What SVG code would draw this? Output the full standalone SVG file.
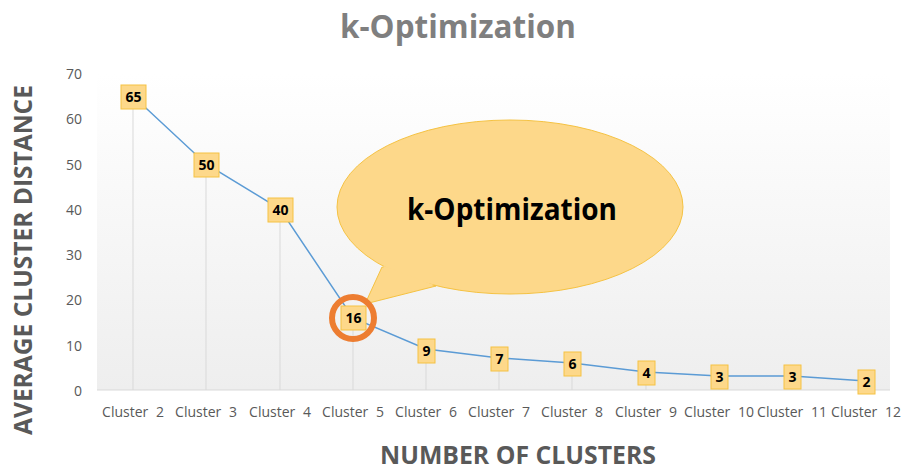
<svg xmlns="http://www.w3.org/2000/svg" width="901" height="470" viewBox="0 0 901 470">
<defs>
<linearGradient id="bg" x1="0" y1="0" x2="0" y2="1">
<stop offset="0" stop-color="#ffffff"/>
<stop offset="1" stop-color="#eeeeee"/>
</linearGradient>
<style>
.tick{font-family:"Open Sans","Liberation Sans",sans-serif;font-size:14px;fill:#595959}
.ytick{text-anchor:end}
.xtick{text-anchor:middle}
.axt{font-family:"Open Sans","Liberation Sans",sans-serif;font-weight:bold;fill:#595959;text-anchor:middle}
.drop{stroke:#d9d9d9;stroke-width:1}
.lbl rect{fill:#fdd88a;stroke:#f5c242;stroke-width:1}
.lbl text{font-family:"Open Sans","Liberation Sans",sans-serif;font-weight:bold;font-size:14px;fill:#000;text-anchor:middle}
</style>
</defs>
<rect width="901" height="470" fill="#ffffff"/>
<text x="458" y="38" class="axt" font-size="32" fill="#7f7f7f" style="fill:#7f7f7f" textLength="236" lengthAdjust="spacingAndGlyphs">k-Optimization</text>
<rect x="97" y="73" width="793" height="317" fill="url(#bg)"/>
<g id="drops">
<line class="drop" x1="133" y1="96" x2="133" y2="390"/>
<line class="drop" x1="206" y1="164" x2="206" y2="390"/>
<line class="drop" x1="280" y1="209" x2="280" y2="390"/>
<line class="drop" x1="353" y1="318" x2="353" y2="390"/>
<line class="drop" x1="426" y1="349" x2="426" y2="390"/>
<line class="drop" x1="499" y1="358" x2="499" y2="390"/>
<line class="drop" x1="572" y1="363" x2="572" y2="390"/>
<line class="drop" x1="646" y1="372" x2="646" y2="390"/>
<line class="drop" x1="719" y1="376" x2="719" y2="390"/>
<line class="drop" x1="792" y1="376" x2="792" y2="390"/>
<line class="drop" x1="866" y1="381" x2="866" y2="390"/>
</g>
<line x1="97" y1="390" x2="890" y2="390" stroke="#d9d9d9" stroke-width="1"/>
<g id="yticks" class="tick ytick">
<text x="82" y="79">70</text>
<text x="82" y="124">60</text>
<text x="82" y="170">50</text>
<text x="82" y="215">40</text>
<text x="82" y="260">30</text>
<text x="82" y="305">20</text>
<text x="82" y="351">10</text>
<text x="82" y="396">0</text>
</g>
<g id="xticks" class="tick xtick" word-spacing="4">
<text x="133" y="417">Cluster 2</text>
<text x="206" y="417">Cluster 3</text>
<text x="280" y="417">Cluster 4</text>
<text x="353" y="417">Cluster 5</text>
<text x="426" y="417">Cluster 6</text>
<text x="499" y="417">Cluster 7</text>
<text x="572" y="417">Cluster 8</text>
<text x="646" y="417">Cluster 9</text>
<text x="719" y="417">Cluster 10</text>
<text x="792" y="417">Cluster 11</text>
<text x="866" y="417">Cluster 12</text>
</g>
<text class="axt" font-size="25" x="518" y="464" textLength="276" lengthAdjust="spacingAndGlyphs">NUMBER OF CLUSTERS</text>
<text class="axt" font-size="25" transform="translate(32,260) rotate(-90)" textLength="350" lengthAdjust="spacingAndGlyphs">AVERAGE CLUSTER DISTANCE</text>
<g id="connectors">
<polyline points="133,96 206,164 280,209 353,318 426,349 499,358 572,363 646,372 719,376 792,376 866,381" fill="none" stroke="#5b9bd5" stroke-width="1.5"/>
</g>
<g id="callout">
<path d="M382,267 L365,304 L436,286 Z" fill="#fdd88a" stroke="#f5c242" stroke-width="1"/>
<ellipse cx="510" cy="207" rx="173" ry="87" fill="#fdd88a" stroke="#f5c242" stroke-width="1"/>
<path d="M384,266 L367,302 L434,285" fill="#fdd88a" stroke="none"/>
<text x="512" y="220" font-family="'Open Sans','Liberation Sans',sans-serif" font-weight="bold" font-size="31" fill="#000" text-anchor="middle" textLength="210" lengthAdjust="spacingAndGlyphs">k-Optimization</text>
</g>
<g id="p65" class="lbl"><rect x="121" y="85" width="25" height="24"/><text x="133.5" y="102">65</text></g>
<g id="p50" class="lbl"><rect x="194" y="153" width="25" height="24"/><text x="206.5" y="170">50</text></g>
<g id="p40" class="lbl"><rect x="268" y="198" width="25" height="24"/><text x="280.5" y="215">40</text></g>
<g id="p16" class="lbl"><rect x="341" y="306" width="25" height="24"/><text x="353.5" y="323">16</text></g>
<g id="p9" class="lbl"><rect x="418" y="339" width="17" height="24"/><text x="426.5" y="356">9</text></g>
<g id="p7" class="lbl"><rect x="491" y="347" width="17" height="24"/><text x="499.5" y="364">7</text></g>
<g id="p6" class="lbl"><rect x="564" y="352" width="17" height="24"/><text x="572.5" y="369">6</text></g>
<g id="p4" class="lbl"><rect x="638" y="361" width="17" height="24"/><text x="646.5" y="378">4</text></g>
<g id="p3a" class="lbl"><rect x="711" y="365" width="17" height="24"/><text x="719.5" y="382">3</text></g>
<g id="p3b" class="lbl"><rect x="784" y="365" width="17" height="24"/><text x="792.5" y="382">3</text></g>
<g id="p2" class="lbl"><rect x="858" y="370" width="17" height="24"/><text x="866.5" y="387">2</text></g>
<circle id="highlight" cx="353" cy="318" r="21" fill="none" stroke="#ed7d31" stroke-width="6"/>
</svg>
